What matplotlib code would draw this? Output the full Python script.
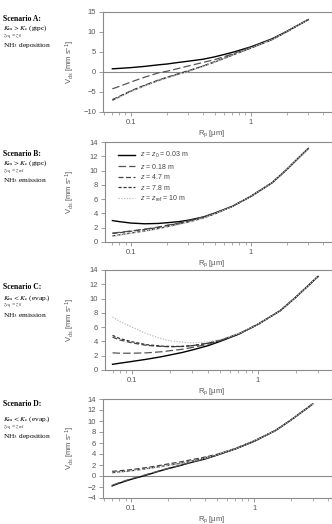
import matplotlib
matplotlib.use("Agg")
import matplotlib.pyplot as plt
from matplotlib.ticker import FixedLocator, FixedFormatter, NullFormatter

plt.rcParams['font.family'] = ['Liberation Sans', 'DejaVu Sans']
plt.rcParams['mathtext.fontset'] = 'custom'
plt.rcParams['mathtext.rm'] = 'Liberation Sans'
plt.rcParams['mathtext.it'] = 'Liberation Sans:italic'

# ---------------- data ----------------
rp = [0.07, 0.08, 0.1, 0.13, 0.17, 0.2, 0.25, 0.3, 0.4, 0.5, 0.7, 1.0, 1.5, 2.0, 2.5, 3.0]

series_labels = [r"$z$ = $z_0$ = 0.03 m", r"$z$ = 0.18 m", r"$z$ = 4.7 m",
                 r"$z$ = 7.8 m", r"$z$ = $z_\mathrm{ref}$ = 10 m"]

a_z0  = [0.8, 0.9, 1.1, 1.4, 1.8, 2.0, 2.4, 2.7, 3.2, 3.8, 4.9, 6.3, 8.3, 10.2, 11.8, 13.1]
a_018 = [-4.2, -3.6, -2.5, -1.3, -0.2, 0.2, 0.9, 1.5, 2.4, 3.1, 4.5, 6.2, 8.2, 10.2, 11.8, 13.1]
a_47  = [-6.9, -6.1, -4.7, -3.3, -2.0, -1.3, -0.4, 0.3, 1.5, 2.6, 4.3, 6.0, 8.1, 10.1, 11.8, 13.1]
a_78  = [-7.1, -6.2, -4.8, -3.4, -2.1, -1.4, -0.5, 0.2, 1.5, 2.5, 4.2, 6.0, 8.1, 10.1, 11.8, 13.1]
a_10  = [-7.2, -6.3, -4.9, -3.5, -2.2, -1.5, -0.6, 0.1, 1.4, 2.5, 4.2, 6.0, 8.1, 10.1, 11.8, 13.1]

b_z0  = [3.0, 2.85, 2.65, 2.55, 2.6, 2.7, 2.85, 3.05, 3.5, 4.05, 5.0, 6.4, 8.3, 10.2, 11.8, 13.1]
b_018 = [1.25, 1.35, 1.55, 1.8, 2.1, 2.35, 2.65, 2.95, 3.5, 4.05, 5.0, 6.4, 8.3, 10.2, 11.8, 13.1]
b_47  = [1.2, 1.3, 1.5, 1.75, 2.05, 2.3, 2.6, 2.9, 3.45, 4.0, 5.0, 6.4, 8.3, 10.2, 11.8, 13.1]
b_78  = [0.85, 1.0, 1.25, 1.55, 1.9, 2.15, 2.5, 2.8, 3.35, 3.95, 5.0, 6.4, 8.3, 10.2, 11.8, 13.1]
b_10  = [0.8, 0.95, 1.2, 1.5, 1.85, 2.1, 2.45, 2.75, 3.35, 3.95, 5.0, 6.4, 8.3, 10.2, 11.8, 13.1]

c_z0  = [0.8, 0.95, 1.2, 1.5, 1.85, 2.1, 2.45, 2.8, 3.4, 4.0, 5.0, 6.4, 8.3, 10.2, 11.8, 13.1]
c_018 = [2.4, 2.35, 2.35, 2.4, 2.55, 2.7, 2.9, 3.15, 3.6, 4.1, 5.0, 6.4, 8.3, 10.2, 11.8, 13.1]
c_47  = [4.6, 4.2, 3.8, 3.45, 3.3, 3.25, 3.3, 3.4, 3.75, 4.15, 5.05, 6.4, 8.3, 10.2, 11.8, 13.1]
c_78  = [4.85, 4.4, 3.95, 3.55, 3.35, 3.3, 3.3, 3.4, 3.75, 4.15, 5.05, 6.4, 8.3, 10.2, 11.8, 13.1]
c_10  = [7.4, 6.8, 6.0, 5.1, 4.4, 4.1, 3.9, 3.8, 3.95, 4.25, 5.1, 6.4, 8.3, 10.2, 11.8, 13.1]

d_z0  = [-1.8, -1.3, -0.6, 0.1, 0.9, 1.35, 1.9, 2.4, 3.1, 3.8, 4.9, 6.3, 8.3, 10.2, 11.8, 13.1]
d_018 = [-1.7, -1.2, -0.5, 0.2, 0.95, 1.4, 1.95, 2.45, 3.15, 3.85, 4.9, 6.3, 8.3, 10.2, 11.8, 13.1]
d_47  = [0.85, 0.95, 1.15, 1.5, 1.9, 2.2, 2.55, 2.9, 3.45, 3.95, 5.0, 6.4, 8.3, 10.2, 11.8, 13.1]
d_78  = [0.6, 0.75, 0.95, 1.3, 1.7, 1.95, 2.3, 2.65, 3.3, 3.9, 4.95, 6.4, 8.3, 10.2, 11.8, 13.1]
d_10  = [0.55, 0.7, 0.9, 1.25, 1.65, 1.9, 2.25, 2.6, 3.25, 3.9, 4.95, 6.4, 8.3, 10.2, 11.8, 13.1]

x_major = [0.1, 1]
x_major_labels = ["0.1", "1"]
x_minor = [0.06, 0.07, 0.08, 0.09, 0.2, 0.3, 0.4, 0.5, 0.6, 0.7, 0.8, 0.9, 2, 3, 4]

a_yticks = [-10, -5, 0, 5, 10, 15]
bc_yticks = [0, 2, 4, 6, 8, 10, 12, 14]
d_yticks = [-4, -2, 0, 2, 4, 6, 8, 10, 12, 14]

scenario_titles = ["Scenario A:", "Scenario B:", "Scenario C:", "Scenario D:"]
scenario_k = [r"$K_\mathrm{m} > K_\mathrm{c}$ (gtpc)", r"$K_\mathrm{m} > K_\mathrm{c}$ (gtpc)",
              r"$K_\mathrm{m} < K_\mathrm{c}$ (evap.)", r"$K_\mathrm{m} < K_\mathrm{c}$ (evap.)"]
scenario_z = [r"$z_\mathrm{eq}$ = $z_0$", r"$z_\mathrm{eq}$ = $z_\mathrm{ref}$",
              r"$z_\mathrm{eq}$ = $z_0$", r"$z_\mathrm{eq}$ = $z_\mathrm{ref}$"]
scenario_nh3 = [r"NH$_3$ deposition", r"NH$_3$ emission", r"NH$_3$ emission", r"NH$_3$ deposition"]

# ---------------- styles ----------------
styles = [
    dict(color="black", lw=1.0, ls="-"),
    dict(color="#555555", lw=0.9, ls=(0, (6, 2.5))),
    dict(color="#444444", lw=0.9, ls=(0, (4, 2))),
    dict(color="#333333", lw=0.9, ls=(0, (2.5, 1.5))),
    dict(color="#bbbbbb", lw=0.9, ls=(0, (1, 1.2))),
]

W, H = 332, 524
fig = plt.figure(figsize=(W / 100, H / 100), dpi=100)

panels = [
    dict(data=[a_z0, a_018, a_47, a_78, a_10], left=103, top=12, bot=112,
         ylim=(-10, 15), yticks=a_yticks, xlim=(0.0585, 4.73), zero=True),
    dict(data=[b_z0, b_018, b_47, b_78, b_10], left=105, top=142, bot=242,
         ylim=(0, 14), yticks=bc_yticks, xlim=(0.0607, 4.73), zero=False),
    dict(data=[c_z0, c_018, c_47, c_78, c_10], left=105, top=270, bot=370,
         ylim=(0, 14), yticks=bc_yticks, xlim=(0.061, 3.87), zero=False),
    dict(data=[d_z0, d_018, d_47, d_78, d_10], left=103, top=399, bot=498,
         ylim=(-4, 14), yticks=d_yticks, xlim=(0.059, 4.3), zero=True),
]
text_rows = [(19, 28.5, 37, 45.5), (154, 163.5, 172, 180.5), (287, 298, 306.5, 315.5),
             (404, 419.5, 428, 436.5)]

spine_col = "#8a8a8a"
tick_col = "#555555"
for i, p in enumerate(panels):
    wpx = W - p['left']
    hpx = p['bot'] - p['top']
    ax = fig.add_axes([p['left'] / W, 1 - p['bot'] / H, wpx / W, hpx / H])
    lines = []
    for k, ys in enumerate(p['data']):
        ln, = ax.plot(rp, ys, label=series_labels[k], **styles[k])
        lines.append(ln)
    ax.set_xscale('log')
    ax.set_xlim(*p['xlim'])
    ax.set_ylim(*p['ylim'])
    ax.xaxis.set_major_locator(FixedLocator(x_major))
    ax.xaxis.set_major_formatter(FixedFormatter(x_major_labels))
    ax.xaxis.set_minor_locator(FixedLocator(x_minor))
    ax.xaxis.set_minor_formatter(NullFormatter())
    ax.set_yticks(p['yticks'])
    ax.spines['right'].set_visible(False)
    for s in ['left', 'bottom', 'top']:
        ax.spines[s].set_color(spine_col)
        ax.spines[s].set_linewidth(0.8)
    if p['zero']:
        ax.axhline(0, color=spine_col, lw=0.8, zorder=0)
    ax.tick_params(axis='both', which='major', direction='out', length=3, width=0.6,
                   color=spine_col, labelsize=5.5, labelcolor=tick_col, pad=2)
    ax.tick_params(axis='x', which='minor', direction='out', length=2, width=0.5, color=spine_col)
    ax.set_ylabel(r"V$_\mathrm{ds}$ [mm s$^{-1}$]", fontsize=5.5, color=tick_col)
    ax.yaxis.set_label_coords(-(p['left'] - 77) / wpx, 0.5)
    ax.set_xlabel(r"R$_\mathrm{p}$ [µm]", fontsize=5.5, color=tick_col)
    ax.xaxis.set_label_coords((212 - p['left']) / wpx, -16 / hpx)

    ys_txt = text_rows[i]
    fig.text(3 / W, 1 - ys_txt[0] / H, scenario_titles[i], family='Liberation Serif',
             fontweight='bold', fontsize=5.5, va='center', ha='left')
    fig.text(3 / W, 1 - ys_txt[1] / H, scenario_k[i], fontsize=5.3, va='center', ha='left',
             family='Liberation Serif', math_fontfamily='stix')
    fig.text(3 / W, 1 - ys_txt[2] / H, scenario_z[i], fontsize=4.3, va='center', ha='left',
             family='Liberation Serif', math_fontfamily='stix', color="#333333")
    fig.text(3 / W, 1 - ys_txt[3] / H, scenario_nh3[i], fontsize=5.3, va='center', ha='left',
             family='Liberation Serif', math_fontfamily='stix')

    if i == 1:
        leg = ax.legend(handles=lines, loc='upper left', frameon=False, fontsize=5.0,
                        bbox_to_anchor=(118 / W, 1 - 150 / H), bbox_transform=fig.transFigure,
                        borderpad=0, borderaxespad=0, handlelength=2.4, handletextpad=0.7,
                        labelspacing=0.22)
        for t in leg.get_texts():
            t.set_color("#444444")

fig.savefig("out.png", dpi=100)
